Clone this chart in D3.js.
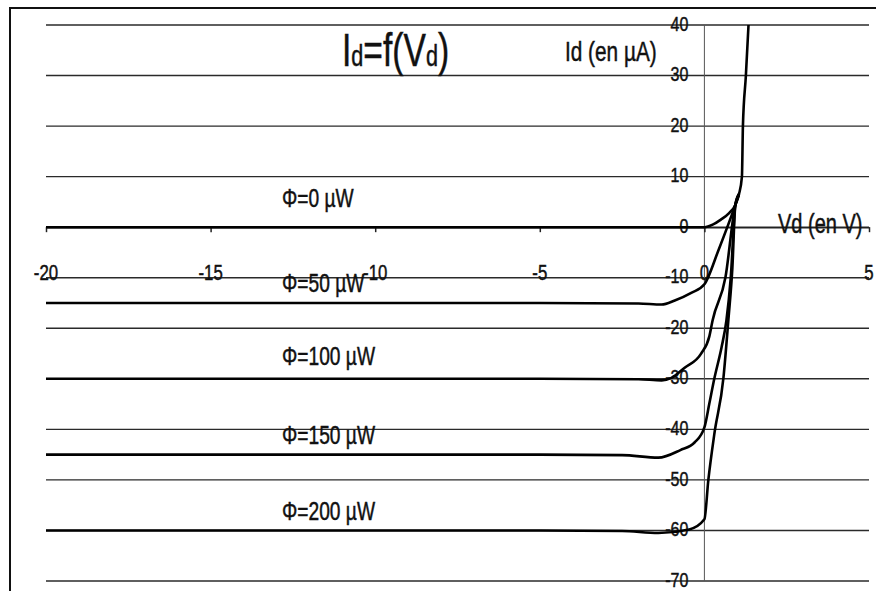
<!DOCTYPE html>
<meta charset="utf-8">
<body style="margin:0;background:#fff">

<script src="https://d3js.org/d3.v7.min.js"></script>
<script>
// Vd in volts, Id in microamps
var vd0   = [-20, -10, -2, -1, 0, 0.25, 0.5, 0.75, 0.94, 1.05, 1.14, 1.17, 1.26, 1.34];
var id0   = [0, 0, 0, 0, 0, 0.5, 1.5, 2.8, 4.4, 6.5, 10, 20, 30, 40];
var vd50  = [-20, -10, -5, -2, -1.3, -0.9, -0.4, 0, 0.43, 0.94, 1.05];
var id50  = [-15, -15, -15, -15.1, -15.3, -14.5, -13, -11.3, -4.5, 4.4, 6.5];
var vd100 = [-20, -10, -5, -2, -1.3, -1, -0.6, -0.1, 0.15, 0.25, 0.64, 0.94, 1.05];
var id100 = [-30, -30, -30, -30.1, -30.3, -29.8, -27.8, -25, -21.6, -18.4, -9.9, 4.4, 6.5];
var vd150 = [-20, -10, -5, -2.5, -1.4, -0.73, -0.3, 0, 0.15, 0.3, 0.52, 0.67, 0.8, 0.94, 1.05];
var id150 = [-45, -45, -45, -45.1, -45.6, -44.1, -42.6, -39.6, -34.9, -30, -23.8, -18.4, -10, 4.4, 6.5];
var vd200 = [-20, -10, -5, -2.5, -1.4, -0.46, 0, 0.12, 0.3, 0.58, 0.73, 0.85, 0.94, 1.05];
var id200 = [-60, -60, -60, -60.1, -60.5, -59.8, -57.8, -50, -41, -29.7, -18.2, -8, 4.4, 6.5];

var phiLabels = ["Φ=0 µW", "Φ=50 µW", "Φ=100 µW", "Φ=150 µW", "Φ=200 µW"];
var xTicks = [-20, -15, -10, -5, 0, 5];
var yTicks = [40, 30, 20, 10, 0, -10, -20, -30, -40, -50, -60, -70];

var width = 876, height = 591;
var font = "'Liberation Sans', Arial, sans-serif";

var svg = d3.select("body").append("svg")
    .attr("width", width)
    .attr("height", height)
    .style("display", "block");

var x = d3.scaleLinear().domain([-20, 5]).range([46, 869]);
var y = d3.scaleLinear().domain([-70, 40]).range([581, 25]);

// narrow, slightly tall text, like the scanned Calibri of the original sheet
function txt(px, py, str, size, anchor, sy) {
    return svg.append("text")
        .attr("transform", "translate(" + px + "," + py + ") scale(0.8," + (sy || 1.08) + ")")
        .attr("text-anchor", anchor || "start")
        .style("font-family", font)
        .style("font-size", size + "px")
        .style("fill", "#111")
        .style("stroke", "#111")
        .style("stroke-width", 0.45)
        .text(str);
}

// frame of the chart area
svg.append("path")
    .attr("d", "M10," + height + "V8H" + width)
    .attr("fill", "none")
    .attr("stroke", "#111")
    .attr("stroke-width", 2);

// horizontal gridlines
svg.selectAll(".grid")
    .data(yTicks)
    .enter().append("line")
    .attr("x1", x(-20)).attr("x2", x(5))
    .attr("y1", function(d) { return y(d); })
    .attr("y2", function(d) { return y(d); })
    .attr("stroke", "#2a2a2a")
    .attr("stroke-width", 1.4);

// vertical axis at Vd = 0
svg.append("line")
    .attr("x1", x(0)).attr("x2", x(0))
    .attr("y1", y(40)).attr("y2", y(-70))
    .attr("stroke", "#555")
    .attr("stroke-width", 1);

// horizontal axis at Id = 0
var xAxis = svg.append("g")
    .attr("transform", "translate(0," + y(0) + ")")
    .call(d3.axisBottom(x).tickValues(xTicks).tickSize(5).tickSizeOuter(0).tickFormat(""));
xAxis.selectAll("path, line").attr("stroke", "#222").attr("stroke-width", 1.5);

// tick labels
yTicks.forEach(function(d) {
    txt(x(0) - 16, y(d) - 1, String(d), 20, "end", 1).attr("dominant-baseline", "central");
});
xTicks.forEach(function(d) {
    txt(x(d), 272, String(d), 21, "middle").attr("dominant-baseline", "central");
});

// curves
var series = [
    {vd: vd0, id: id0},
    {vd: vd50, id: id50},
    {vd: vd100, id: id100},
    {vd: vd150, id: id150},
    {vd: vd200, id: id200}
];

var line = d3.line()
    .x(function(d) { return x(d[0]); })
    .y(function(d) { return y(d[1]); })
    .curve(d3.curveMonotoneX);

svg.selectAll(".curve")
    .data(series)
    .enter().append("path")
    .attr("d", function(s) { return line(d3.zip(s.vd, s.id)); })
    .attr("fill", "none")
    .attr("stroke", "#000")
    .attr("stroke-width", 2.6)
    .attr("stroke-linejoin", "round");

// light level labels, just above each flat part
var lift = [20, 11, 14, 11, 10];
series.forEach(function(s, i) {
    txt(282, y(s.id[0]) - lift[i], phiLabels[i], 24);
});

// title and axis names
var title = txt(342, 66, "I", 42);
title.append("tspan").style("font-size", "27px").text("d");
title.append("tspan").text("=f(V");
title.append("tspan").style("font-size", "27px").text("d");
title.append("tspan").text(")");

txt(565, 61, "Id (en µA)", 26);
txt(778, 233, "Vd (en V)", 25);
</script>
</body>
